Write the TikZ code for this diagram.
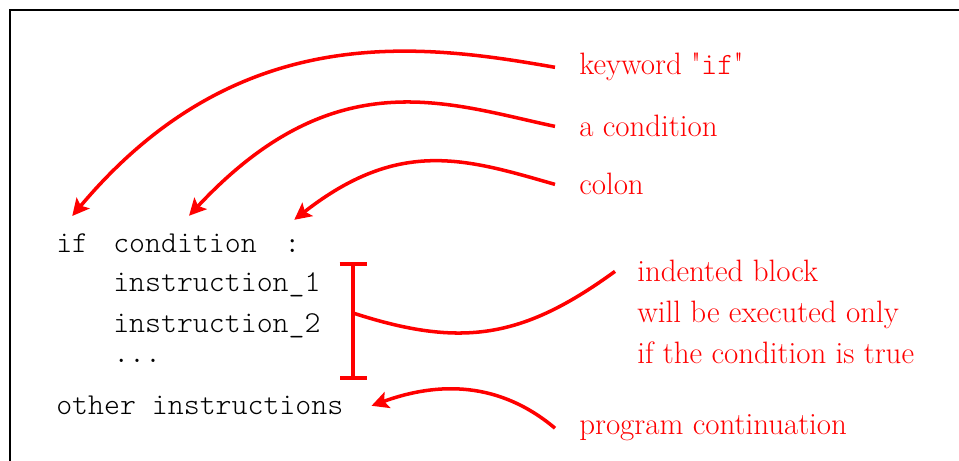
\documentclass[tikz,border=0pt]{standalone}
\usepackage{fontspec}
\usepackage{xcolor}
\usepackage{tikz}
\usetikzlibrary{arrows.meta,positioning,calc}
\newfontfamily\codefont{lmmonolt10-regular}[Extension=.otf]
\tikzset{
  codeline/.style={font=\fontsize{21.6}{26}\selectfont\codefont, inner sep=0pt, anchor=base west},
  notetext/.style={font=\fontsize{22}{26}\selectfont, text=red, inner sep=0pt, anchor=base west},
  pointer/.style={-{Stealth[length=12pt,width=12pt,inset=2.5pt]}, red, line width=2.5pt},
  blockbar/.style={{Bar[width=0.675cm]}-{Bar[width=0.675cm]}, red, line width=2.8pt},
  blockarm/.style={red, line width=2.5pt},
  frameline/.style={line width=1.2pt},
}

\begin{document}
\begin{tikzpicture}
  \clip (0,0) rectangle (23.975,11.525);
  % Frame (cut off at right and bottom)
  \draw[frameline] (0.25,-1) |- (25,11.275);

  % Code
  \node[codeline] (kwif) at (1.4,5.2) {if};
  \node[codeline] (cond) at (2.825,5.2) {condition};
  \node[codeline] (colon) at (7.1,5.2) {:};
  \node[codeline] (ins1) at (2.825,4.225) {instruction\_1};
  \node[codeline] (ins2) at (2.825,3.2) {instruction\_2};
  \node[codeline] (dots) at (2.825,2.45) {...};
  \node[codeline] (other) at (1.4,1.15) {other instructions};

  % Notes
  \node[notetext] (n_kw) at (14.475,9.65) {keyword \textquotedbl{\codefont if}\textquotedbl};
  \node[notetext] (n_cond) at (14.475,8.1) {a condition};
  \node[notetext] (n_colon) at (14.475,6.65) {colon};
  \node[notetext] (blk1) at (15.925,4.475) {indented block};
  \node[notetext] (blk2) at (15.925,3.45) {will be executed only};
  \node[notetext] (blk3) at (15.925,2.425) {if the condition is true};
  \node[notetext] (n_cont) at (14.475,0.65) {program continuation};

  % Bracket round the block
  \coordinate (brtop) at (8.825,4.975);
  \coordinate (brbot) at (8.825,2.025);
  \coordinate (brmid) at (8.825,3.7);
  \draw[blockbar] (brtop) -- (brbot);

  % Arrows
  \draw[pointer] ($(n_kw.west)+(-0.6,0)$) to[out=170, in=50, out looseness=0.7, in looseness=1.3] ($(kwif.north)+(0,0.45)$);
  \draw[pointer] ($(n_cond.west)+(-0.6,0)$) to[out=168, in=47, out looseness=0.75, in looseness=1.45] ($(cond.north)+(0.1,0.46)$);
  \draw[pointer] ($(n_colon.west)+(-0.6,0)$) to[out=164, in=38, out looseness=0.9, in looseness=1.3] ($(colon.north)+(0.05,0.5)$);
  \draw[blockarm] (brmid) to[out=-18, in=216, looseness=1.1] ($(blk1.west)+(-0.55,0)$);
  \draw[pointer] ($(n_cont.west)+(-0.6,0)$) to[out=140, in=20, looseness=1] ($(other.east)+(0.7,0)$);
\end{tikzpicture}
\end{document}
